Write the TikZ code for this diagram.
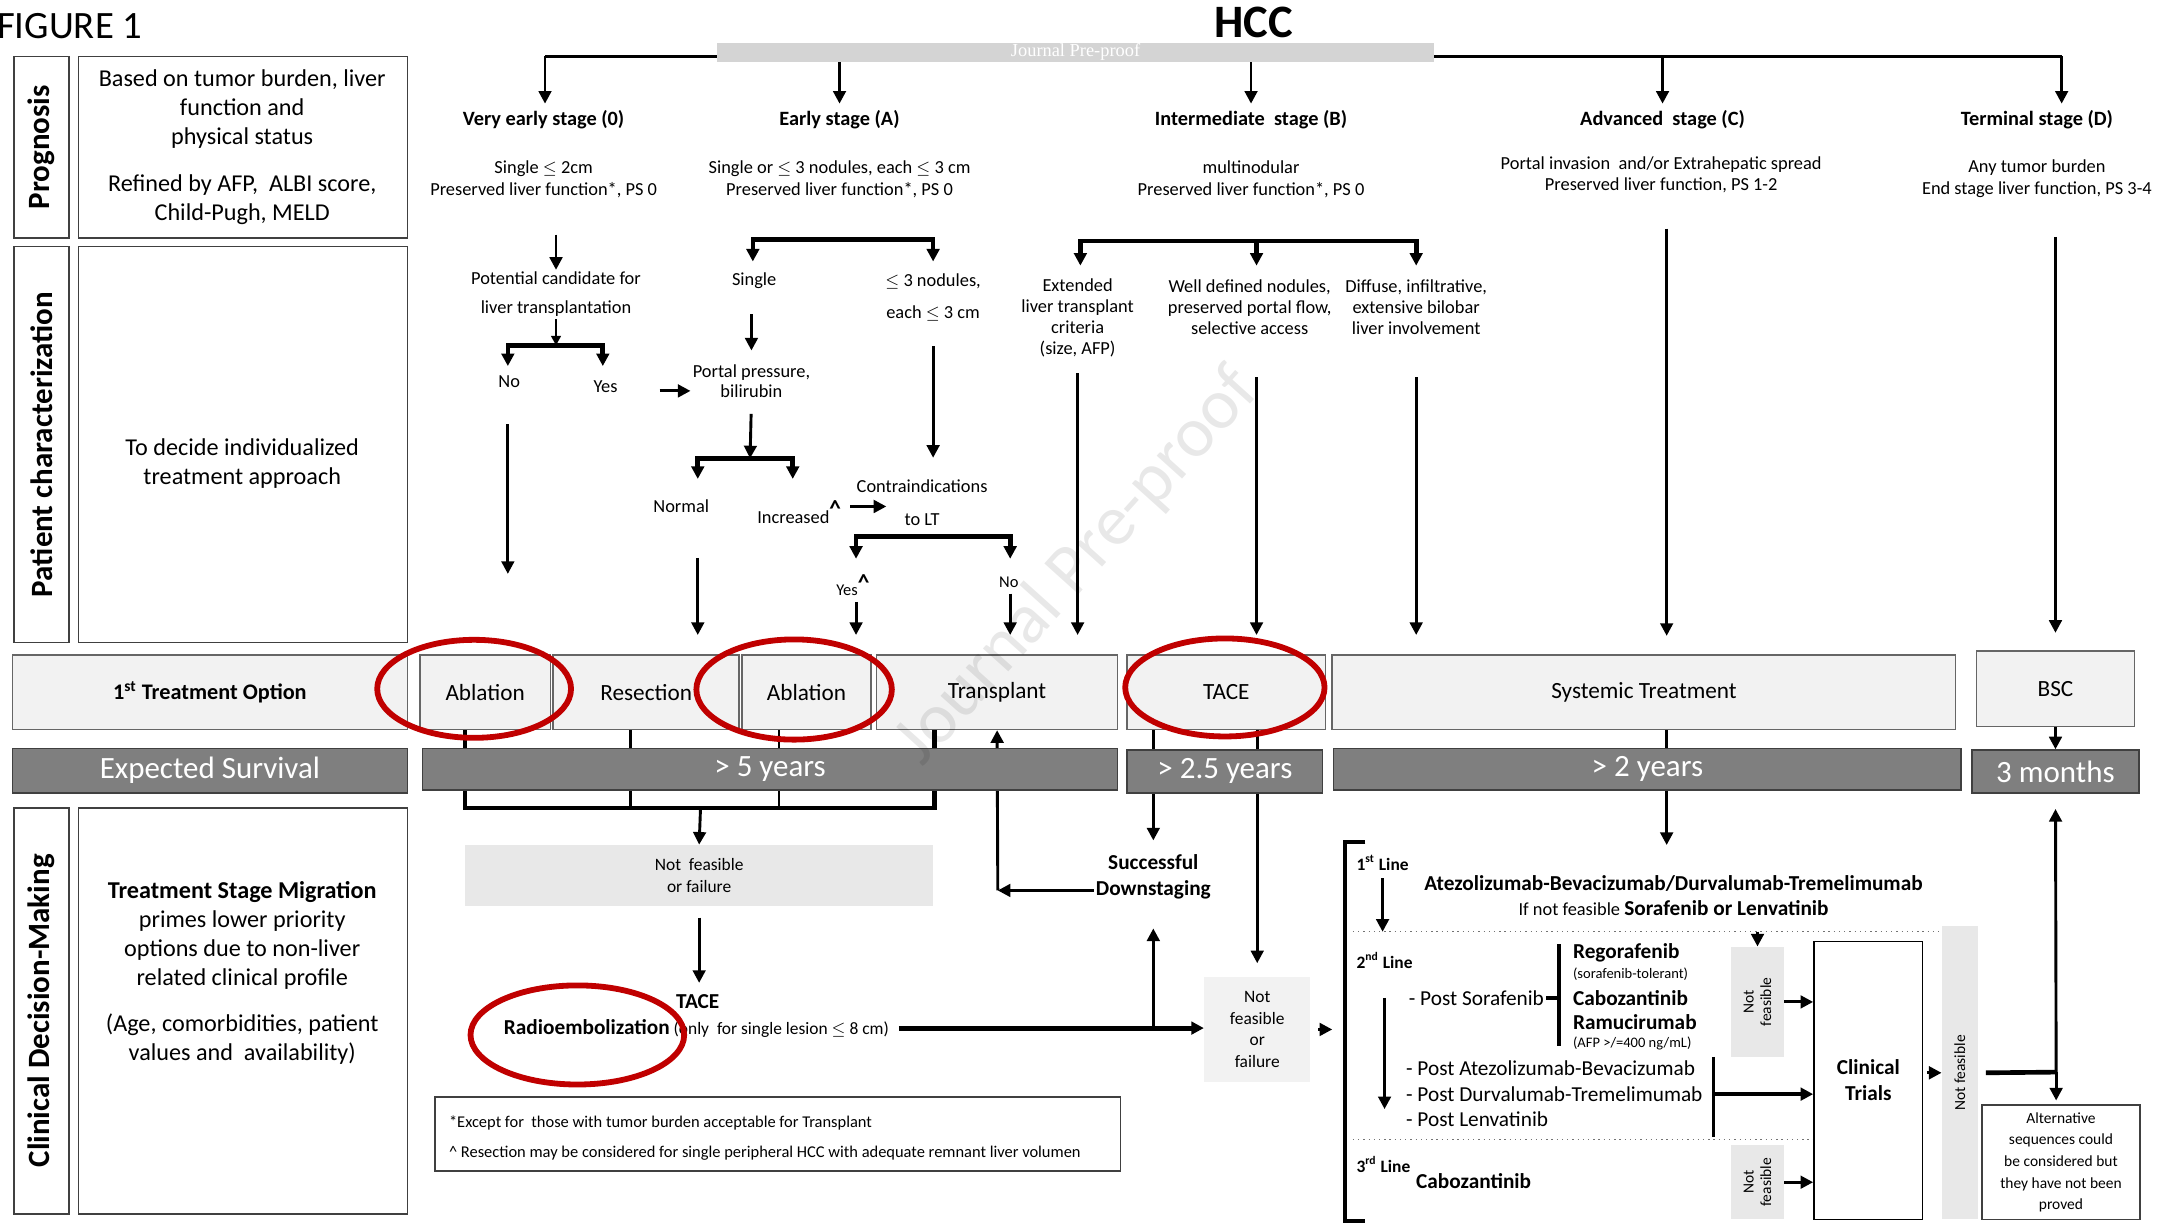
\documentclass[tikz,border=0pt]{standalone}
\usepackage{fontspec}
\setmainfont{Carlito}
\newfontfamily\jpfont{Liberation Serif}
\usetikzlibrary{arrows.meta, positioning, fit, calc}

\definecolor{boxgrey}{HTML}{F2F2F2}
\definecolor{softgrey}{HTML}{E8E8E8}
\definecolor{bargrey}{HTML}{7F7F7F}
\definecolor{stripgrey}{HTML}{D4D4D4}
\definecolor{ringred}{HTML}{C00000}

\tikzset{%
	frame/.style={draw=black!75, line width=0.8pt, inner sep=0pt},
	side/.style={rotate=90, font=\fontsize{16}{18}\selectfont\bfseries},
	info/.style={align=center, font=\fontsize{12.5}{15}\selectfont},
	tbox/.style={draw=black!60, fill=boxgrey, line width=0.8pt, inner sep=0pt},
	btxt/.style={align=center, inner sep=0pt, font=\fontsize{12}{14}\selectfont},
	sbar/.style={draw=black!75, fill=bargrey, line width=0.8pt, inner sep=0pt},
	stxt/.style={inner sep=0pt, text=white, font=\fontsize{16}{18}\selectfont},
	stage/.style={font=\fontsize{10.5}{12}\selectfont\bfseries},
	crit/.style={align=center, inner sep=1pt, font=\fontsize{9.5}{11.3}\selectfont},
	subtxt/.style={align=center, inner sep=1pt, font=\fontsize{9.5}{15}\selectfont},
	pick/.style={inner sep=1pt, font=\fontsize{8.5}{10}\selectfont},
	greybox/.style={fill=softgrey, inner sep=0pt},
	gtxt/.style={align=center, inner sep=0pt, font=\fontsize{9}{11.3}\selectfont},
	strong/.style={align=center, inner sep=1pt, font=\fontsize{11}{13.5}\selectfont\bfseries},
	line2/.style={anchor=west, inner sep=1pt, font=\fontsize{11}{13}\selectfont},
	drug/.style={anchor=west, inner sep=0.5pt, font=\fontsize{11}{13}\selectfont\bfseries},
	smallprint/.style={anchor=west, inner sep=0.5pt, font=\fontsize{7.5}{9}\selectfont},
	lineno/.style={anchor=west, inner sep=1pt, font=\fontsize{9}{11}\selectfont\bfseries},
	vtext/.style={rotate=90, align=center, font=\fontsize{8}{9}\selectfont},
	conn/.style={line width=1.5pt},
	arr/.style={conn, -{Triangle[length=6.5pt, width=6.5pt]}},
	fork/.style={line width=2.4pt, {Triangle[length=6.5pt, width=6.5pt]}-{Triangle[length=6.5pt, width=6.5pt]}},
	bracket/.style={line width=2pt},
	ring/.style={draw=ringred, line width=3pt},
	dotrule/.style={dotted, line width=0.7pt, black!55}
}
\newcommand{\caret}{\textsuperscript{\textbf{\large\textasciicircum}}}

\begin{document}
\begin{tikzpicture}[x=0.025cm, y=-0.025cm]
	\useasboundingbox (0,0) rectangle (1568,893);

	% row labels on the left
	\node[frame, fit={(10,41) (50,173)}] (progF) {};
	\node[side] (progT) at (progF.center) {Prognosis};
	\node[frame, fit={(57,41) (296,173)}] (progB) {};
	\node[info] (progX) at (176,107) {Based on tumor burden, liver\\function and\\physical status\\[9pt]Refined by AFP,\ \ ALBI score,\\Child-Pugh, MELD};
	\node[frame, fit={(10,179) (50,467)}] (patF) {};
	\node[side] (patT) at (patF.center) {Patient characterization};
	\node[frame, fit={(57,179) (296,467)}] (patB) {};
	\node[info] (patX) at (176,337) {To decide individualized\\treatment approach};
	\node[frame, fit={(10,587) (50,882)}] (clinF) {};
	\node[side] (clinT) at (clinF.center) {Clinical Decision-Making};
	\node[frame, fit={(57,587) (296,882)}] (clinB) {};
	\node[info] (clinX) at (176,707) {\textbf{Treatment Stage Migration}\\primes lower priority\\options due to non-liver\\related clinical profile\\[9pt](Age, comorbidities, patient\\values and\ \ availability)};

	% title and stages
	\node[anchor=west, font=\fontsize{20}{22}\selectfont] (fig) at (-7,19) {FIGURE 1};
	\node[font=\fontsize{24}{26}\selectfont\bfseries] (hcc) at (911,16) {HCC};
	\coordinate (spL) at (396,41);
	\coordinate (spR) at (1498,41);
	\draw[conn] (spL) -- (spR);
	\node[fit={(521,31) (1042,45)}, fill=stripgrey, inner sep=0pt,%
		label={[inner sep=0pt, text=white, font=\jpfont\fontsize{9.5}{10}\selectfont]center:Journal Pre-proof}] (strip) {};

	\node[stage] (st0) at (395,87) {Very early stage (0)};
	\node[stage] (stA) at (610,87) {Early stage (A)};
	\node[stage] (stB) at (909,87) {Intermediate\ \ stage (B)};
	\node[stage] (stC) at (1208,87) {Advanced\ \ stage (C)};
	\node[stage] (stD) at (1480,87) {Terminal stage (D)};
	\draw[arr] (spL) -- (spL |- st0.north);
	\draw[arr] (strip.south -| stA) -- (stA.north);
	\draw[arr] (strip.south -| stB) -- (stB.north);
	\draw[arr] (spR -| stC) -- (stC.north);
	\draw[arr] (spR) -- (spR |- stD.north);

	\node[crit] (ds0) at (395,130) {Single $\leq$ 2cm\\Preserved liver function*, PS 0};
	\node[crit] (dsA) at (610,130) {Single or $\leq$ 3 nodules, each $\leq$ 3 cm\\Preserved liver function*, PS 0};
	\node[crit] (dsB) at (909,130) {multinodular\\Preserved liver function*, PS 0};
	\node[crit] (dsC) at (1207,127) {Portal invasion\ \ and/or Extrahepatic spread\\Preserved liver function, PS 1-2};
	\node[crit] (dsD) at (1480,130) {Any tumor burden\\End stage liver function, PS 3-4};

	% first treatment options
	\node[tbox, fit={(9,476) (296,530)},%
		label={[btxt, font=\fontsize{11.5}{13}\selectfont\bfseries]center:{1\textsuperscript{st} Treatment Option}}] (opt) {};
	\node[tbox, fit={(305,476) (400,530)}, label={[btxt]center:Ablation}] (abl1) {};
	\node[tbox, fit={(402,476) (537,530)}, label={[btxt]center:Resection}] (res) {};
	\node[tbox, fit={(539,476) (633,530)}, label={[btxt]center:Ablation}] (abl2) {};
	\node[tbox, fit={(637,476) (812,530)}, label={[btxt]center:Transplant}] (trans) {};
	\node[tbox, fit={(819,476) (963,530)}, label={[btxt]center:TACE}] (tace) {};
	\node[tbox, fit={(968,476) (1421,530)}, label={[btxt]center:Systemic Treatment}] (sys) {};
	\node[tbox, fit={(1436,473) (1551,528)}, label={[btxt]center:BSC}] (bsc) {};

	% very early stage
	\node[subtxt] (cand) at (404,214) {Potential candidate for\\liver transplantation};
	\draw[arr, shorten <=18pt] (ds0.south -| cand) -- (cand.north);
	\coordinate (fk0) at (404,251);
	\coordinate (fk0l) at (369,266);
	\coordinate (fk0r) at (438,266);
	\draw[conn, -{Triangle[length=5pt, width=5pt]}] (cand.south) -- (fk0);
	\draw[fork] (fk0l) |- (fk0) -| (fk0r);
	\node[subtxt] (no0) at (370,277) {No};
	\node[subtxt] (yes0) at (440,281) {Yes};
	\coordinate (noEnd) at (369,417);
	\draw[arr, shorten <=18pt] (no0.south -| noEnd) -- (noEnd);

	% early stage
	\coordinate (fkA) at (612,174);
	\coordinate (fkAl) at (547,190);
	\coordinate (fkAr) at (678,190);
	\draw[fork] (fkAl) |- (fkA) -| (fkAr);
	\node[subtxt] (single) at (548,204) {Single};
	\node[subtxt, font=\fontsize{9.5}{16.3}\selectfont] (nod3) at (678,216) {$\leq$ 3 nodules,\\each $\leq$ 3 cm};
	\node[crit, font=\fontsize{9.5}{10.7}\selectfont] (portal) at (546,277) {Portal pressure,\\bilirubin};
	\draw[arr] ([xshift=-16pt, yshift=-5pt]portal.west) -- ([yshift=-5pt]portal.west);
	\draw[arr, shorten <=12pt, shorten >=6pt] (portal.north |- single.south) -- (portal.north);
	\coordinate (fkP) at (545,333);
	\coordinate (fkPl) at (507,348);
	\coordinate (fkPr) at (576,348);
	\draw[arr, shorten <=7pt] (portal.south) -- (fkP);
	\draw[fork] (fkPl) |- (fkP) -| (fkPr);
	\node[subtxt] (normal) at (495,368) {Normal};
	\node[subtxt] (incr) at (581,372) {Increased\caret};
	\node[subtxt, font=\fontsize{9.5}{17}\selectfont] (contra) at (670,365) {Contraindications\\to LT};
	\coordinate (incrTip) at (644,368);
	\draw[arr, shorten <=3pt] (incr.east |- incrTip) -- (incrTip);
	\draw[arr, shorten <=12pt, shorten >=10pt] (nod3.south) -- (nod3.south |- contra.north);
	\coordinate (fkC) at (678,390);
	\coordinate (fkCl) at (622,406);
	\coordinate (fkCr) at (734,406);
	\draw[fork] (fkCl) |- (fkC) -| (fkCr);
	\node[pick] (yes1) at (620,425) {Yes\caret};
	\node[pick] (no1) at (733,423) {No};
	\draw[arr, shorten <=2pt, shorten >=10pt] (fkCl |- yes1.south) -- (fkCl |- abl2.north);
	\draw[arr, shorten <=2pt, shorten >=10pt] (fkCr |- no1.south) -- (fkCr |- trans.north);
	\draw[arr, shorten <=22pt, shorten >=10pt] (fkPl |- normal.south) -- (fkPl |- res.north);

	% intermediate stage
	\coordinate (fkB) at (913,175);
	\coordinate (fkBl) at (785,193);
	\coordinate (fkBm) at (913,193);
	\coordinate (fkBr) at (1029,193);
	\draw[fork] (fkBl) |- (fkB) -| (fkBr);
	\draw[line width=2.4pt, -{Triangle[length=6.5pt, width=6.5pt]}] (fkB) -- (fkBm);
	\node[crit, font=\fontsize{9.5}{10.9}\selectfont] (ext) at (783,231) {Extended\\liver transplant\\criteria\\(size, AFP)};
	\node[crit, font=\fontsize{9.5}{10.9}\selectfont] (well) at (908,223) {Well defined nodules,\\preserved portal flow,\\selective access};
	\node[crit, font=\fontsize{9.5}{10.9}\selectfont] (diff) at (1029,223) {Diffuse, infiltrative,\\extensive bilobar\\liver involvement};
	\draw[arr, shorten <=7pt, shorten >=10pt] (ext.south) -- (ext.south |- trans.north);
	\draw[arr, shorten <=21pt, shorten >=10pt] (fkBm |- well.south) -- (fkBm |- tace.north);
	\draw[arr, shorten <=21pt, shorten >=10pt] (fkBr |- diff.south) -- (fkBr |- sys.north);

	% advanced and terminal stage
	\coordinate (colC) at (1211,462);
	\draw[arr, shorten <=17pt] (dsC.south -| colC) -- (colC);
	\draw[arr, shorten <=19pt, shorten >=9pt] (bsc.north |- dsD.south) -- (bsc.north);

	% clinical decision nodes
	\node[greybox, fit={(338,614) (678,658)}, label={[gtxt]center:{Not\ \ feasible\\or failure}}] (nf1) {};
	\node[strong, font=\fontsize{11}{13.5}\selectfont\bfseries] (down) at (838,637) {Successful\\Downstaging};
	\node[greybox, fill=boxgrey, fit={(875,710) (952,786)}, label={[gtxt, font=\fontsize{9}{11.1}\selectfont]center:{Not\\feasible\\or\\failure}}] (nf2) {};
	\node[strong] (tace2) at (507,728) {TACE};
	\node[inner sep=1pt, font=\fontsize{9}{11}\selectfont] (radio) at (506,747) {{\fontsize{11}{13}\selectfont\bfseries Radioembolization} (only\ \ for single lesion $\leq$ 8 cm)};

	% connectors crossing the survival bars
	\coordinate (j1) at (338,587);
	\coordinate (j2) at (458,587);
	\coordinate (j3) at (566,587);
	\coordinate (j4) at (679,587);
	\coordinate (jm) at (509,587);
	\draw[line width=2.2pt] (abl1.south -| j1) |- (j4) -- (trans.south -| j4);
	\draw[conn] (res.south -| j2) -- (j2);
	\draw[conn] (abl2.south -| j3) -- (j3);
	\draw[arr] (jm) -- (nf1.north);
	\coordinate (tcorner) at (725,647);
	\draw[arr] (down.west |- tcorner) -- (tcorner);
	\draw[arr] (tcorner) -- (trans.south);
	\draw[arr, shorten >=6pt] (tace.south -| down) -- (down.north);
	\draw[arr, shorten >=7pt] (tace.south -| nf2) -- (nf2.north);
	\coordinate (sysTip) at (1211,614);
	\draw[arr] (colC |- sys.south) -- (sysTip);

	% expected survival
	\node[sbar, fit={(9,544) (296,576)}, label={[stxt]center:Expected Survival}] (survF) {};
	\node[sbar, fit={(307,544) (812,574)}, label={[stxt]center:{> 5 years}}] (y5) {};
	\node[sbar, fit={(819,545) (961,576)}, label={[stxt]center:{> 2.5 years}}] (y25) {};
	\node[sbar, fit={(969,544) (1425,574)}, label={[stxt]center:{> 2 years}}] (y2) {};
	\node[sbar, fit={(1433,545) (1554,576)}, label={[stxt]center:{3 months}}] (m3) {};
	\draw[arr] (bsc.south) -- (m3.north);

	\draw[arr, shorten <=6pt, shorten >=5pt] (nf1.south) -- (nf1.south |- tace2.north);
	\draw[arr, line width=2.5pt, shorten <=4pt] (radio.east) -- (nf2.west |- radio.east);
	\draw[arr, shorten >=14pt] (down.south |- radio.east) -- (down.south);

	% footnotes
	\node[frame, fit={(316,797) (814,851)}] (foot) {};
	\node[anchor=west, inner sep=0pt, font=\fontsize{8.5}{10}\selectfont] (ft1) at (326,816) {*Except for\ \ those with tumor burden acceptable for Transplant};
	\node[anchor=west, inner sep=0pt, font=\fontsize{8.5}{10}\selectfont] (ft2) at (326,838) {\textasciicircum{} Resection may be considered for single peripheral HCC with adequate remnant liver volumen};

	% systemic treatment lines
	\coordinate (brkIn) at (968,748);
	\draw[arr, shorten <=4pt] (nf2.east) -- (brkIn);
	\coordinate (bkT) at (992,612);
	\coordinate (bkB) at (992,887);
	\draw[bracket] (bkT) -- ++(-15,0) |- (bkB);
	\node[lineno] (l1) at (984,627) {1\textsuperscript{st} Line};
	\node[inner sep=1pt, font=\fontsize{11}{13}\selectfont\bfseries] (atezo) at (1216,642) {Atezolizumab-Bevacizumab/Durvalumab-Tremelimumab};
	\node[inner sep=1pt, font=\fontsize{9.5}{13}\selectfont] (ifnot) at (1216,660) {If not feasible {\fontsize{11}{13}\selectfont\bfseries Sorafenib or Lenvatinib}};
	\coordinate (dotA) at (983,677);
	\coordinate (dotAe) at (1413,677);
	\draw[dotrule] (dotA) -- (dotAe);
	\draw[arr, shorten <=3pt] (l1.south) -- (l1.south |- dotA);

	\node[lineno] (l2) at (984,698) {2\textsuperscript{nd} Line};
	\node[line2] (ps) at (1022,725) {- Post Sorafenib};
	\coordinate (rbT) at (1133,686);
	\coordinate (rbB) at (1133,760);
	\draw[bracket] (rbT) -- (rbB);
	\draw[bracket] (ps.east) -- (ps.east -| rbT);
	\node[drug] (rego) at (1142,692) {Regorafenib};
	\node[smallprint] (regoS) at (1142,708) {(sorafenib-tolerant)};
	\node[drug] (cabo) at (1142,725) {Cabozantinib};
	\node[drug] (ramu) at (1142,743) {Ramucirumab};
	\node[smallprint] (ramuS) at (1142,758) {(AFP >/=400 ng/mL)};
	\node[greybox, fit={(1258,688) (1296,768)}] (nfA) {};
	\node[vtext] (nfAt) at (nfA.center) {Not\\feasible};
	\draw[arr] (nfA.north |- dotA) -- (nfA.north);
	\node[line2] (pa) at (1020,776) {- Post Atezolizumab-Bevacizumab};
	\node[line2] (pd) at (1020,795) {- Post Durvalumab-Tremelimumab};
	\node[line2] (pl) at (1020,813) {- Post Lenvatinib};
	\draw[arr] (l2.south |- ps.west) -- (l2.south |- pl.north);
	\coordinate (b2T) at (1245,768);
	\coordinate (b2B) at (1245,826);
	\draw[bracket] (b2T) -- (b2B);
	\coordinate (dotB) at (983,828);
	\coordinate (dotBe) at (1318,828);
	\draw[dotrule] (dotB) -- (dotBe);
	\node[lineno] (l3) at (984,846) {3\textsuperscript{rd} Line};
	\node[drug] (cabo3) at (1028,858) {Cabozantinib};
	\node[greybox, fit={(1258,832) (1296,886)}] (nfB) {};
	\node[vtext] (nfBt) at (nfB.center) {Not\\feasible};

	\node[draw, line width=0.8pt, inner sep=0pt, fit={(1318,684) (1397,886)},%
		label={[strong]center:{Clinical\\Trials}}] (trials) {};
	\draw[arr] (nfA.east) -- (trials.west |- nfA.east);
	\draw[arr, line width=2.2pt] (b2T |- pd.east) -- (trials.west |- pd.east);
	\draw[arr] (nfB.east) -- (trials.west |- nfB.east);
	\node[greybox, fit={(1411,673) (1437,886)}] (nfC) {};
	\node[vtext] (nfCt) at (nfC.center) {Not feasible};
	\draw[arr, shorten <=2pt] (trials.east |- nfC.west) -- (nfC.west);
	\node[frame, fit={(1440,803) (1555,886)},%
		label={[align=center, inner sep=0pt, font=\fontsize{8}{11.2}\selectfont]center:{Alternative\\sequences could\\be considered but\\they have not been\\proved}}] (alt) {};
	\coordinate (jT) at (1494,779);
	\draw[line width=2.4pt] ([xshift=4pt]nfC.east) -- (jT);
	\draw[arr, shorten >=8pt] (jT) -- (m3.south);
	\draw[arr, shorten >=2pt] (jT) -- (alt.north -| jT);

	% red highlights
	\draw[ring] (344.5,500.5) ellipse [x radius=1.76cm, y radius=0.89cm];
	\draw[ring] (577,501) ellipse [x radius=1.775cm, y radius=0.91cm];
	\draw[ring] (890,499.5) ellipse [x radius=1.81cm, y radius=0.89cm];
	\draw[ring] (419.5,752) ellipse [x radius=1.94cm, y radius=0.9cm];

	% watermark, see-through
	\node[rotate=48, text=black, text opacity=0.09, font=\fontsize{37}{40}\selectfont] (wm) at (783,412) {Journal Pre-proof};
\end{tikzpicture}
\end{document}
